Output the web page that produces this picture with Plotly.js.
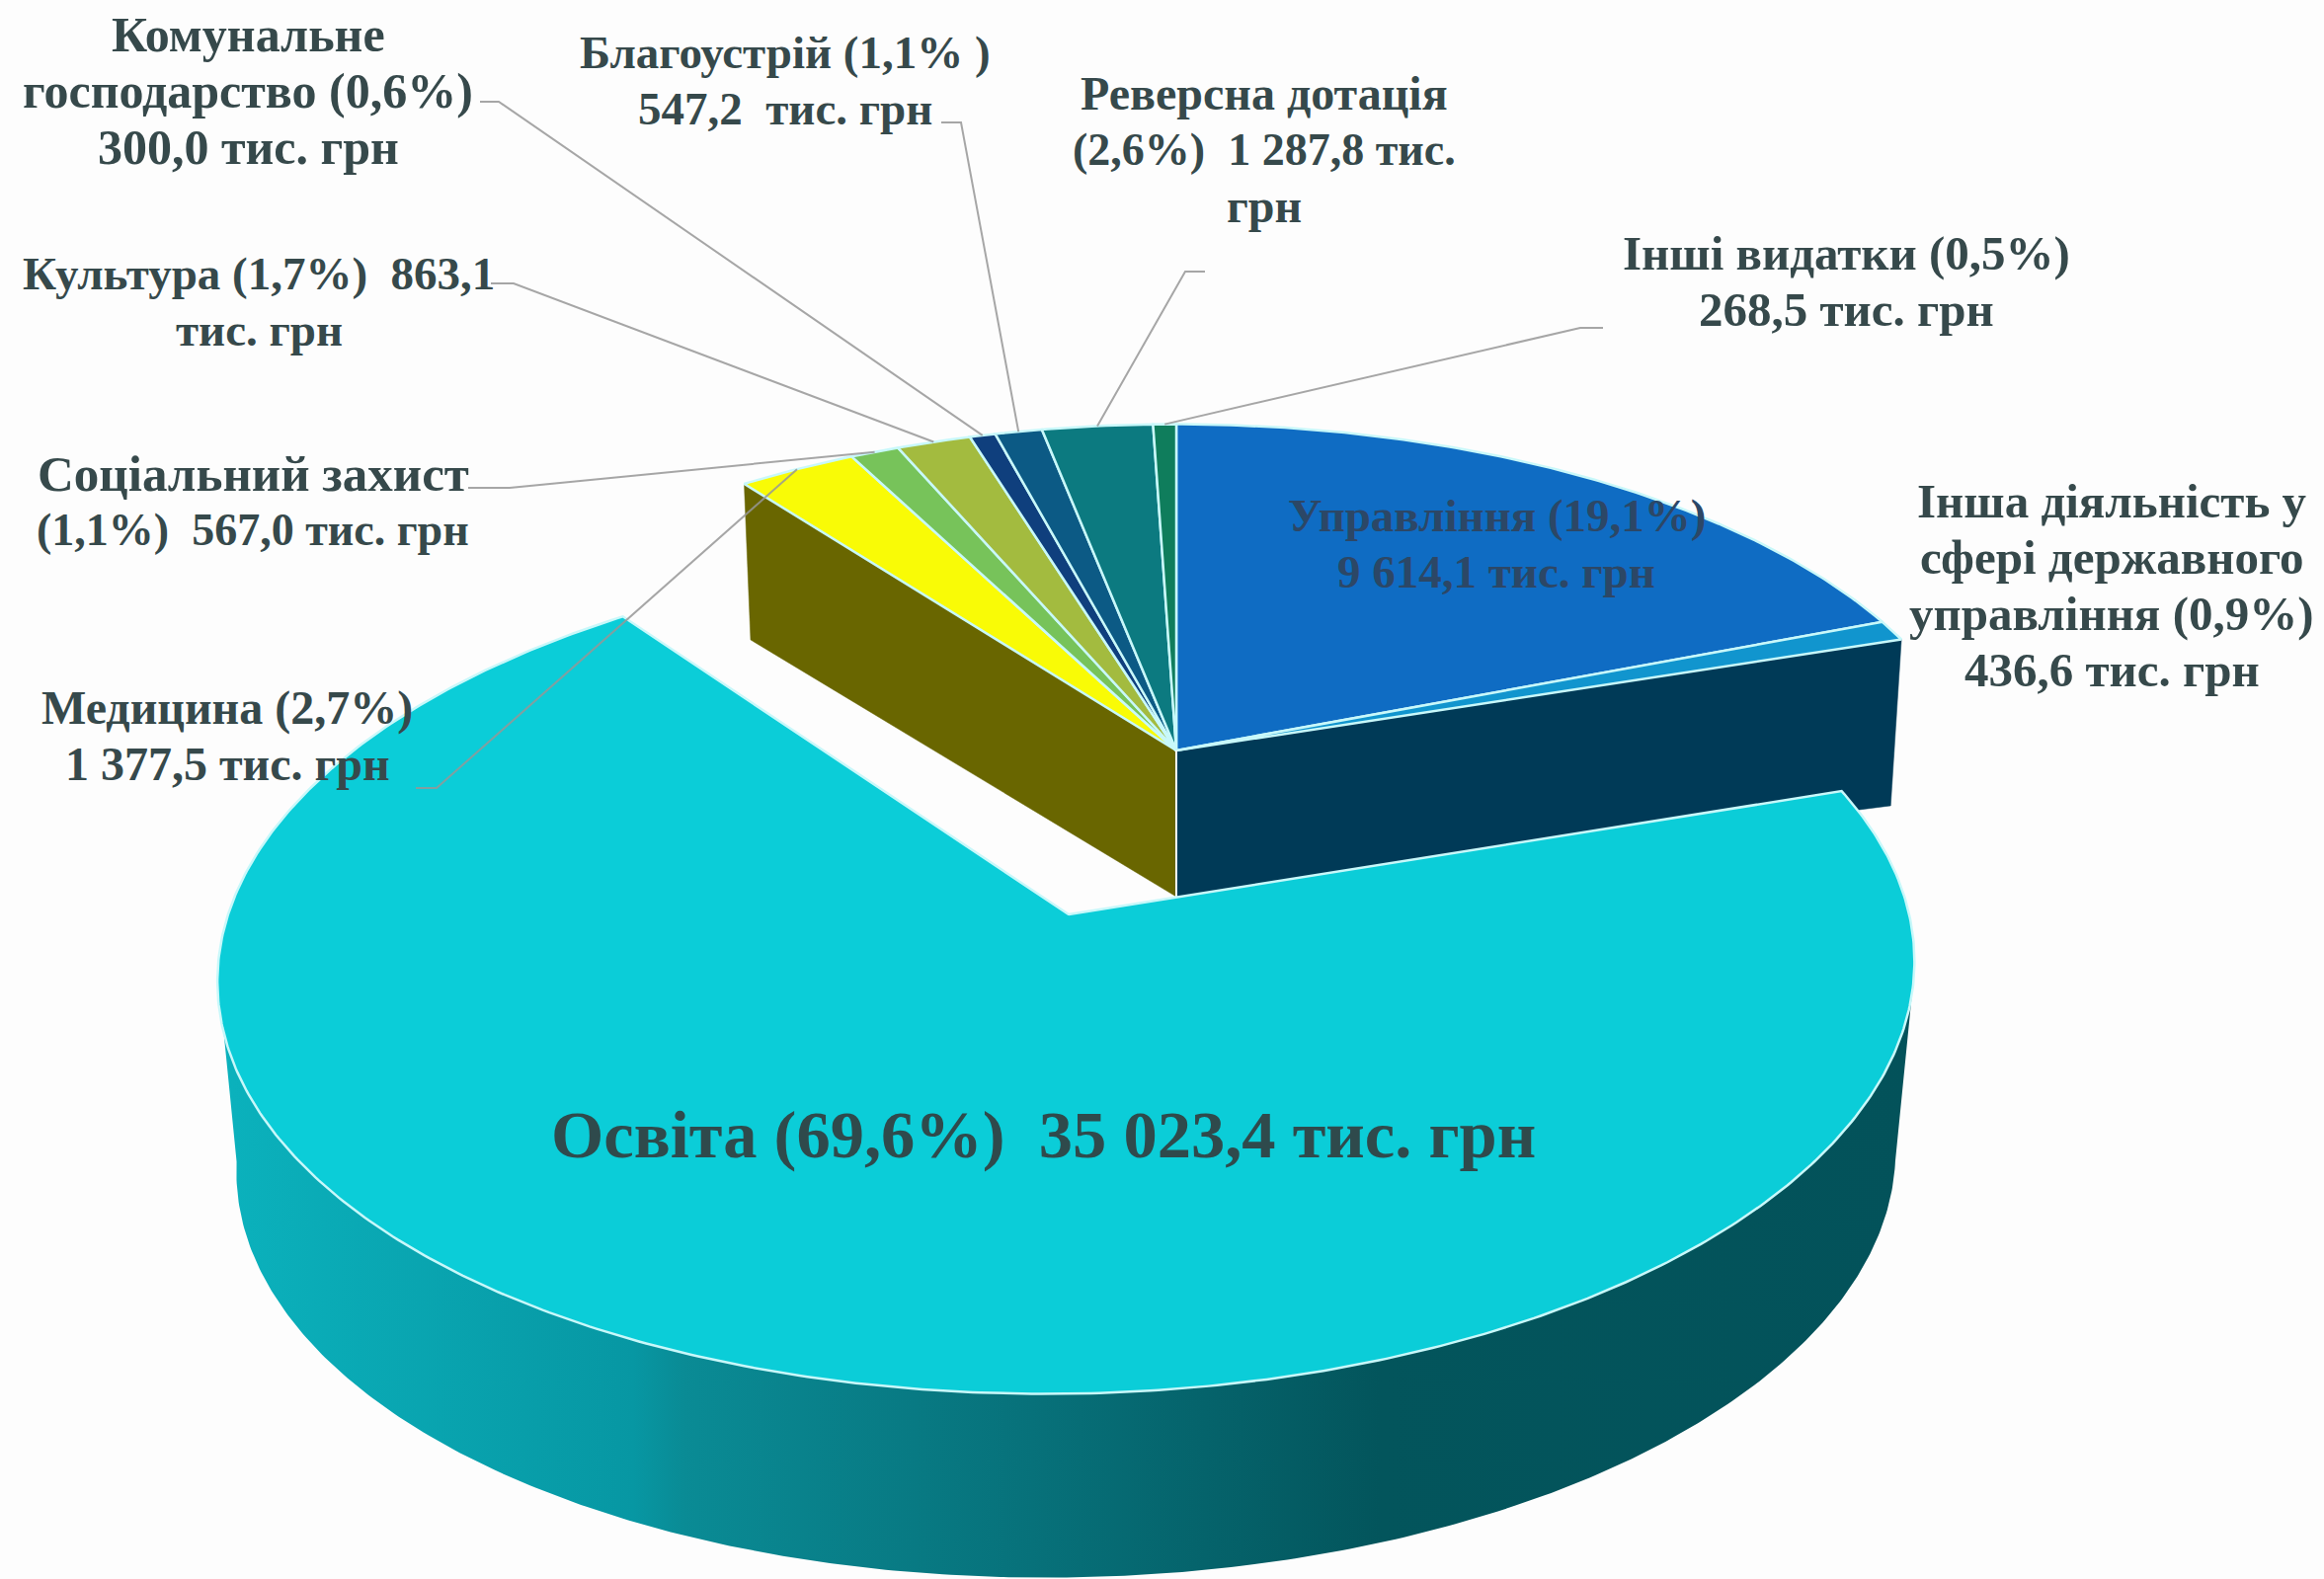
<!DOCTYPE html>
<html lang="uk">
<head>
<meta charset="utf-8">
<script src="https://cdn.plot.ly/plotly-3.0.1.min.js"></script>
<style>html,body{margin:0;padding:0;background:#fdfdfd}#chart{width:2353px;height:1599px}</style>
</head>
<body>
<div id="chart"></div>
<script>
// ---- Data, clockwise from 12 o'clock ----
const categories = ["Управління","Інша діяльність у сфері державного управління","Освіта","Медицина","Соціальний захист","Культура","Комунальне господарство","Благоустрій","Реверсна дотація","Інші видатки"];
const values = [9614.1, 436.6, 35023.4, 1377.5, 567.0, 863.1, 300.0, 547.2, 1287.8, 268.5];
const labels = [
  "Управління (19,1%)<br>9 614,1 тис. грн",
  "Інша діяльність у<br>сфері державного<br>управління (0,9%)<br>436,6 тис. грн",
  "Освіта (69,6%)\u00a0\u00a035 023,4 тис. грн",
  "Медицина (2,7%)<br>1 377,5 тис. грн",
  "Соціальний захист<br>(1,1%)\u00a0\u00a0567,0 тис. грн",
  "Культура (1,7%)\u00a0\u00a0863,1<br>тис. грн",
  "Комунальне<br>господарство (0,6%)<br>300,0 тис. грн",
  "Благоустрій (1,1% )<br>547,2\u00a0\u00a0тис. грн",
  "Реверсна дотація<br>(2,6%)\u00a0\u00a01 287,8 тис.<br>грн",
  "Інші видатки (0,5%)<br>268,5 тис. грн"
];

// ---- Styles and layout ----
const sliceColors = ["#0f6cc3","#1195ce","#0bcdd8","#f9fb06","#77c35a","#a3bb3f","#0f3f7d","#0c5a85","#0c7a80","#0f7d5c"];
const labelX = [1515,2138,1056,230,256,262,251,795,1280,1869];
const labelY = [550,593,1149,745,508,305,92,81,151,285];
const labelColor = ["#2c4766","#36494b","#2f4a4c","#36494b","#36494b","#36494b","#36494b","#36494b","#36494b","#36494b"];
// Font size per text line of each label
const labelSize = [[47,47],[49,49,49,49],[68.5],[48,48],[51,46],[47,47],[50,50,50],[47,47],[48,46,48],[49,49]];
const lineHeight = 57;
// Elbow of each leader line: label end, then bend; null = no leader
const leaderStart = [null,null,null,[421,798],[474,494],[497,287],[486,103],[953,124],[1220,275],[1623,332]];
const leaderBend  = [null,null,null,[442,798],[516,494],[520,287],[505,103],[973,124],[1200,275],[1600,332]];

// Perspective planes: apex, radii, depth factor, shear
const topA  = {cx:1191, cy:760,  R:808, S:380, k:0.15,  q:0};
const botAL = {cx:1191, cy:908,  R:796, S:366, k:0.15,  q:0};
const botAR = {cx:1191, cy:908,  R:796, S:311, k:0.15,  q:0};
const topB  = {cx:1082, cy:926,  R:851, S:420, k:0.135, q:20};
const botB  = {cx:1082, cy:1119, R:832, S:414, k:0.135, q:20};

const EXPLODED = 2;
const total = values.reduce((a,b)=>a+b,0);
const angles = [0];
values.forEach(v => angles.push(angles[angles.length-1] + v/total*360));

function project(p, deg){
  const t = deg*Math.PI/180, X = Math.sin(t), Y = Math.cos(t), w = 1 + p.k*Y;
  return [p.cx + (p.R*X + p.q*Y)/w, p.cy - p.S*Y/w];
}
function arc(p, a0, a1){
  const n = Math.max(2, Math.ceil(Math.abs(a1-a0)*2)), pts = [];
  for(let i=0;i<=n;i++) pts.push(project(p, a0+(a1-a0)*i/n));
  return pts;
}
function poly(pts, fillcolor, line, extra){
  const closed = pts.concat([pts[0]]);
  return Object.assign({
    type:"scatter", mode:"lines", x:closed.map(q=>q[0]), y:closed.map(q=>q[1]),
    fill:"toself", fillcolor, line, hoverinfo:"skip", showlegend:false
  }, extra||{});
}
const edge = {color:"#c8f8fa", width:2.5};

const traces = [];
const a1 = angles[EXPLODED], a2 = angles[EXPLODED+1];

// Cut faces of the un-exploded group
traces.push(poly([[topA.cx,topA.cy],project(topA,a1),project(botAR,a1),[botAR.cx,botAR.cy]],"#003a57",{color:"#003a57",width:0.5},{name:"wall"}));
traces.push(poly([[topA.cx,topA.cy],project(topA,a2),project(botAL,a2),[botAL.cx,botAL.cy]],"#696600",{color:"#696600",width:0.5},{name:"wall"}));

// Top faces of the un-exploded group
values.forEach((v,i)=>{
  if(i===EXPLODED) return;
  traces.push(poly([[topA.cx,topA.cy]].concat(arc(topA,angles[i],angles[i+1])),sliceColors[i],edge,{name:categories[i]}));
});
// Separator at the olive/navy wall join
traces.push({type:"scatter",mode:"lines",x:[topA.cx,botAL.cx],y:[topA.cy,botAL.cy],line:{color:"#ffffff",width:2},hoverinfo:"skip",showlegend:false});

// Rim of the exploded slice, shaded left to right
const sideR = 97.8, sideL = 262.2;
traces.push(poly(arc(topB,sideR,sideL).concat(arc(botB,sideL,sideR)),"#0a8b95",{color:"rgba(0,0,0,0)",width:0},{
  name:"rim",
  fillgradient:{type:"horizontal",colorscale:[[0,"#0bb2bd"],[0.245,"#0797a3"],[0.275,"#0a8b95"],[0.48,"#07717a"],[0.685,"#03555c"],[1,"#03525a"]]}
}));
// Top face of the exploded slice
traces.push(poly([[topB.cx,topB.cy]].concat(arc(topB,a1,a2)),sliceColors[EXPLODED],edge,{name:categories[EXPLODED]}));

// Leader lines
categories.forEach((c,i)=>{
  if(!leaderStart[i]) return;
  const end = project(topA,(angles[i]+angles[i+1])/2);
  traces.push({type:"scatter",mode:"lines",
    x:[leaderStart[i][0],leaderBend[i][0],end[0]],
    y:[leaderStart[i][1],leaderBend[i][1],end[1]],
    line:{color:"rgba(150,150,150,0.85)",width:2},hoverinfo:"skip",showlegend:false});
});

// One annotation per text line, so the line spacing is independent of the font size
const annotations = [];
labels.forEach((t,i)=>{
  const lines = t.split("<br>");
  lines.forEach((ln,j)=>annotations.push({
    text:ln, x:labelX[i], y:labelY[i]+(j-(lines.length-1)/2)*lineHeight, xref:"x", yref:"y",
    xanchor:"center", yanchor:"middle", showarrow:false, align:"center",
    font:{family:"'Liberation Serif', serif", size:labelSize[i][j], color:labelColor[i], weight:700}
  }));
});

Plotly.newPlot("chart",traces,{
  width:2353,height:1599,margin:{l:0,r:0,t:0,b:0},
  paper_bgcolor:"#fdfdfd",plot_bgcolor:"#fdfdfd",showlegend:false,
  xaxis:{range:[0,2353],visible:false,fixedrange:true},
  yaxis:{range:[1599,0],visible:false,fixedrange:true},
  annotations
},{displayModeBar:false,staticPlot:true});
</script>
</body>
</html>
